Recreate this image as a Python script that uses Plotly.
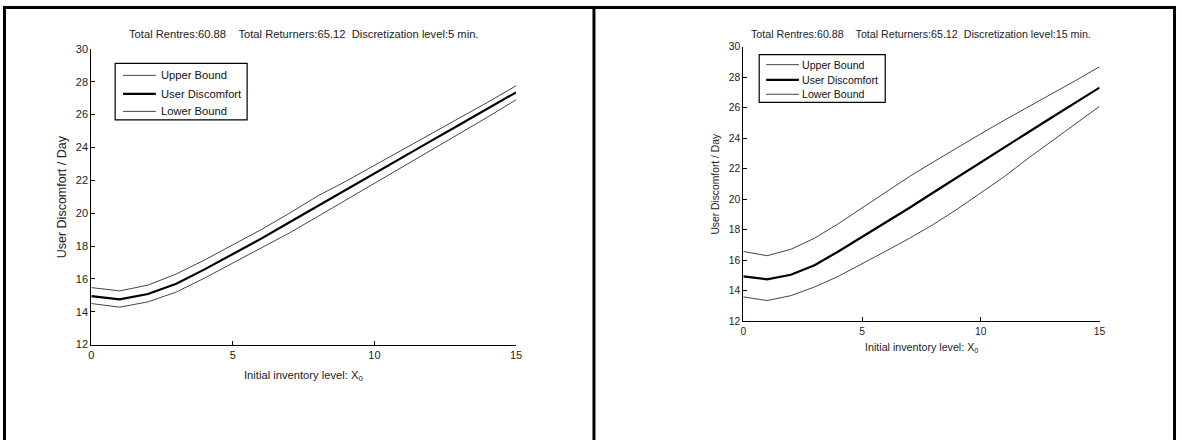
import plotly.graph_objects as go

W, H = 1182, 446

x_levels = list(range(16))
series_names = ["Upper Bound", "User Discomfort", "Lower Bound"]

# Discretization level 5 min (left panel)
upper_5 = [15.47, 15.27, 15.62, 16.30, 17.15, 18.05, 19.00, 20.00, 21.05, 21.95, 22.90, 23.90, 24.85, 25.80, 26.75, 27.75]
disc_5 = [14.95, 14.75, 15.08, 15.70, 16.58, 17.50, 18.45, 19.45, 20.45, 21.45, 22.45, 23.42, 24.40, 25.38, 26.36, 27.35]
lower_5 = [14.50, 14.28, 14.60, 15.20, 16.05, 16.95, 17.85, 18.80, 19.80, 20.80, 21.80, 22.80, 23.80, 24.80, 25.85, 26.90]

# Discretization level 15 min (right panel)
upper_15 = [16.58, 16.30, 16.72, 17.45, 18.40, 19.45, 20.50, 21.50, 22.45, 23.40, 24.30, 25.20, 26.05, 26.95, 27.80, 28.70]
disc_15 = [14.95, 14.75, 15.05, 15.68, 16.58, 17.52, 18.47, 19.45, 20.45, 21.45, 22.45, 23.42, 24.40, 25.38, 26.36, 27.33]
lower_15 = [13.60, 13.36, 13.68, 14.25, 14.95, 15.75, 16.60, 17.45, 18.35, 19.35, 20.40, 21.50, 22.70, 23.85, 25.00, 26.10]

titles = [
    "Total Rentres:60.88\u00a0\u00a0\u00a0\u00a0Total Returners:65.12\u00a0\u00a0Discretization level:5 min.",
    "Total Rentres:60.88\u00a0\u00a0\u00a0\u00a0Total Returners:65.12\u00a0\u00a0Discretization level:15 min.",
]
x_title = "Initial inventory level: X<sub>0</sub>"
y_title = "User Discomfort / Day"
x_ticks = [0, 5, 10, 15]
y_ticks = [12, 14, 16, 18, 20, 22, 24, 26, 28, 30]

FONT = "Liberation Sans, Arial, sans-serif"


def px(x):
    return x / W


def py(y):
    return 1 - y / H


panels = [
    dict(data=(upper_5, disc_5, lower_5), x0=89, x1=517, y0=44, y1=348,
         fs=11.2, tfs=11.0, yfs=12.5, title_y=29, xlab_y=377, ylab_x=59,
         leg=dict(bx0=113, by0=59, bx1=246, by1=117, lx0=121, lx1=154, tx=157, rows=[71.3, 90.3, 108.3], fs=11.2)),
    dict(data=(upper_15, disc_15, lower_15), x0=746, x1=1105, y0=42, y1=324,
         fs=10.7, tfs=10.3, yfs=10.3, title_y=29, xlab_y=348.5, ylab_x=718,
         leg=dict(bx0=762, by0=50, bx1=889, by1=99, lx0=769, lx1=802, tx=803, rows=[60.3, 76.0, 90.7], fs=10.6)),
]

fig = go.Figure()
shapes = []
annotations = []

line_styles = [dict(color="#444444", width=1), dict(color="black", width=2.2), dict(color="#444444", width=1)]

for i, p in enumerate(panels):
    sfx = "" if i == 0 else "2"
    for name, ys, st in zip(series_names, p["data"], line_styles):
        fig.add_trace(go.Scatter(x=x_levels, y=ys, mode="lines", name=name, line=st,
                                 showlegend=False, xaxis="x" + sfx, yaxis="y" + sfx))
    axis_common = dict(showgrid=False, zeroline=False, showline=True, linecolor="black", linewidth=1,
                       ticks="inside", ticklen=4, tickcolor="black", tickwidth=1,
                       tickfont=dict(family=FONT, size=p["tfs"], color="#222"))
    fig.layout["xaxis" + sfx] = dict(axis_common, domain=[px(p["x0"]), px(p["x1"])], range=[0, 15],
                                     tickvals=x_ticks, anchor="y" + sfx)
    fig.layout["yaxis" + sfx] = dict(axis_common, domain=[py(p["y1"]), py(p["y0"])], range=[12, 30],
                                     tickvals=y_ticks, anchor="x" + sfx)
    cx = (p["x0"] + p["x1"]) / 2
    annotations.append(dict(text=titles[i], x=px(cx), y=py(p["title_y"]), xref="paper", yref="paper",
                            xanchor="center", yanchor="middle", showarrow=False,
                            font=dict(family=FONT, size=p["fs"], color="#222")))
    annotations.append(dict(text=x_title, x=px(cx), y=py(p["xlab_y"] - 6), xref="paper", yref="paper",
                            xanchor="center", yanchor="top", showarrow=False,
                            font=dict(family=FONT, size=p["fs"], color="#222")))
    annotations.append(dict(text=y_title, x=px(p["ylab_x"]), y=py((p["y0"] + p["y1"]) / 2), xref="paper",
                            yref="paper", xanchor="center", yanchor="middle", textangle=-90, showarrow=False,
                            font=dict(family=FONT, size=p["yfs"], color="#222")))
    lg = p["leg"]
    shapes.append(dict(type="rect", xref="paper", yref="paper", x0=px(lg["bx0"]), x1=px(lg["bx1"]),
                       y0=py(lg["by1"]), y1=py(lg["by0"]), line=dict(color="black", width=1.2),
                       fillcolor="white", layer="above"))
    for name, st, ry in zip(series_names, line_styles, lg["rows"]):
        shapes.append(dict(type="line", xref="paper", yref="paper", x0=px(lg["lx0"]), x1=px(lg["lx1"]),
                           y0=py(ry), y1=py(ry), line=st, layer="above"))
        annotations.append(dict(text=name, x=px(lg["tx"]), y=py(ry), xref="paper", yref="paper",
                                xanchor="left", yanchor="middle", showarrow=False,
                                font=dict(family=FONT, size=lg["fs"], color="#111")))

# outer frame and divider
for xx in [1.5, 595.5, 1180.5]:
    shapes.append(dict(type="line", xref="paper", yref="paper", x0=px(xx), x1=px(xx), y0=0, y1=1,
                       line=dict(color="black", width=3)))
shapes.append(dict(type="line", xref="paper", yref="paper", x0=0, x1=1, y0=py(1.5), y1=py(1.5),
                   line=dict(color="black", width=3)))

fig.update_layout(width=W, height=H, margin=dict(l=0, r=0, t=0, b=0), paper_bgcolor="white",
                  plot_bgcolor="white", shapes=shapes, annotations=annotations, showlegend=False)

fig.write_html("out.html", config={"displayModeBar": False},
               post_script="document.body.style.margin='0';document.body.style.padding='0';"
                           "document.documentElement.style.overflow='hidden';")
